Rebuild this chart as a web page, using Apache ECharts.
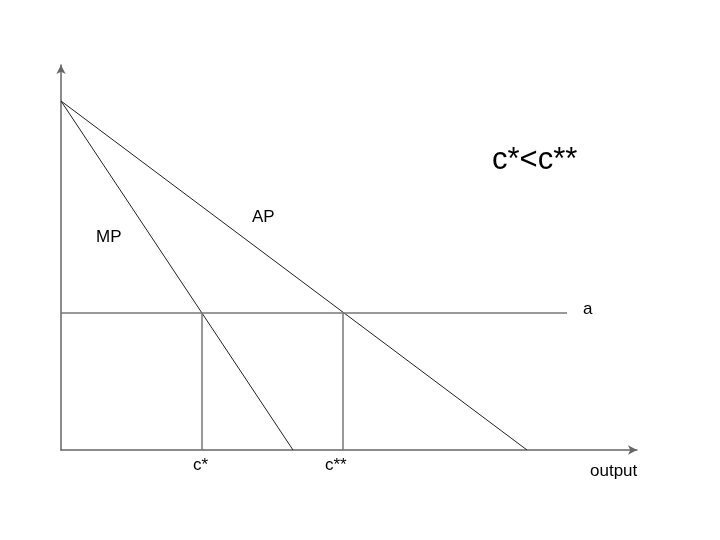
<!DOCTYPE html>
<html>
<head>
<meta charset="utf-8">
<script src="https://cdn.jsdelivr.net/npm/echarts@6/dist/echarts.min.js"></script>
<style>
  html, body { margin: 0; padding: 0; background: #fff; }
  #main { width: 720px; height: 540px; }
</style>
</head>
<body>
<div id="main"></div>
<script>
// diagram units (x: output, y: product per unit)
var xMax = 576
var yMax = 385
var mpLine = [[0, 349], [232, 0]]
var apLine = [[0, 349], [466, 0]]
var aLevel = 137
var aEnd = 506
var cStar = 141
var cStarStar = 282

var font = 'Liberation Sans, Arial, sans-serif'
var chart = echarts.init(document.getElementById('main'))

function text (t, x, y, size) {
  return {
    type: 'text', left: x, top: y,
    style: { text: t, font: (size || 17) + 'px ' + font, fill: '#000' }
  }
}

chart.setOption({
  animation: false,
  grid: { left: 61, top: 65, width: 576, height: 385 },
  xAxis: {
    type: 'value', min: 0, max: xMax,
    axisLine: { lineStyle: { color: '#666', width: 1.5 }, symbol: ['none', 'arrow'], symbolSize: [7, 9] },
    axisTick: { show: false }, axisLabel: { show: false }, splitLine: { show: false }
  },
  yAxis: {
    type: 'value', min: 0, max: yMax,
    axisLine: { show: true, lineStyle: { color: '#666', width: 1.5 }, symbol: ['none', 'arrow'], symbolSize: [7, 9] },
    axisTick: { show: false }, axisLabel: { show: false }, splitLine: { show: false }
  },
  series: [
    { type: 'line', data: mpLine, symbol: 'none', lineStyle: { color: '#222', width: 1 } },
    { type: 'line', data: apLine, symbol: 'none', lineStyle: { color: '#222', width: 1 } },
    { type: 'line', data: [[0, aLevel], [aEnd, aLevel]], symbol: 'none', lineStyle: { color: '#777', width: 1.5 } },
    { type: 'line', data: [[cStar, 0], [cStar, aLevel]], symbol: 'none', lineStyle: { color: '#777', width: 1.5 } },
    { type: 'line', data: [[cStarStar, 0], [cStarStar, aLevel]], symbol: 'none', lineStyle: { color: '#777', width: 1.5 } }
  ],
  graphic: [
    text('MP', 96, 229),
    text('AP', 252, 209),
    text('a', 583, 301),
    text('c*', 193, 457),
    text('c**', 325, 457),
    text('output', 590, 463),
    text('c*<c**', 492, 145, 31)
  ]
})
</script>
</body>
</html>
